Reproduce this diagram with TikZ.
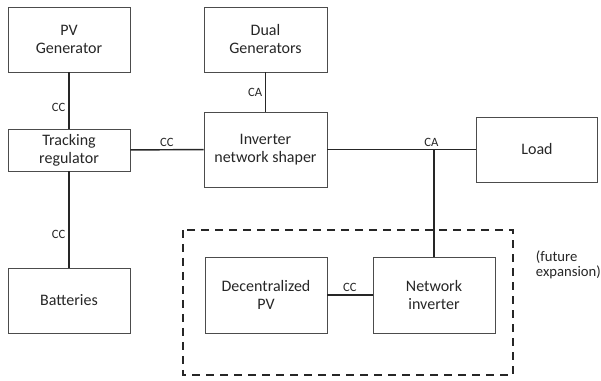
\documentclass[tikz,border=0pt]{standalone}
\usepackage{fontspec}
\setmainfont{Carlito}
\begin{document}
\begin{tikzpicture}[x=0.75pt,y=-0.75pt,
        blk/.style={draw=black!70,line width=0.6pt,align=center,inner sep=2pt,
            font=\fontsize{12}{13.5}\selectfont,text=black!85},
        bus/.style={line width=1.1pt,black!85},
        lbl/.style={font=\fontsize{9.5}{10}\selectfont,text=black!85,inner sep=2pt}]
            \useasboundingbox (0,0) rectangle (601,381);

            \node [blk,minimum width=91.5pt,minimum height=48.75pt] (pv) at (69,39.5) {PV\\Generator};
            \node [blk,minimum width=91.5pt,minimum height=31.5pt] (track) at (69,150) {Tracking\\regulator};
            \node [blk,minimum width=91.5pt,minimum height=48.75pt] (batt) at (69,300.5) {Batteries};
            \node [blk,minimum width=92.25pt,minimum height=48.75pt] (dual) at (265.5,39.5) {Dual\\Generators};
            \node [blk,minimum width=92.25pt,minimum height=56.25pt] (inv) at (265.5,149.5) {Inverter\\network shaper};
            \node [blk,minimum width=90.75pt,minimum height=48.75pt] (load) at (537,149.5) {Load};
            \node [blk,minimum width=91.5pt,minimum height=57pt] (dpv) at (266,295) {Decentralized\\PV};
            \node [blk,minimum width=91.5pt,minimum height=57pt] (netinv) at (434,295) {Network\\inverter};
            \coordinate (junc) at (netinv.north |- inv.east);

            \draw [line width=1.5pt,black!85] (pv) -- node[lbl,pos=0.62,left]{CC} (track);
            \draw [line width=1.5pt,black!85] (track) -- node[lbl,pos=0.66,left]{CC} (batt);
            \draw [bus] (track) -- node[lbl,above]{CC} (inv);
            \draw [bus] (dual) -- node[lbl,left]{CA} (inv);
            \draw [bus] (inv) -- (load);
            \draw [bus] (junc) -- (netinv);
            \node [lbl,above,xshift=-2pt] at (junc) {CA};
            \draw [bus] (dpv) -- node[lbl,above]{CC} (netinv);

            \draw [line width=1.5pt,black!85,dash pattern=on 6pt off 4.5pt] (183,230) rectangle (513,375);
            \node [lbl,anchor=west,align=left,font=\fontsize{11}{11.5}\selectfont] (future) at (533,265) {(future\\expansion)};
        \end{tikzpicture}
\end{document}
